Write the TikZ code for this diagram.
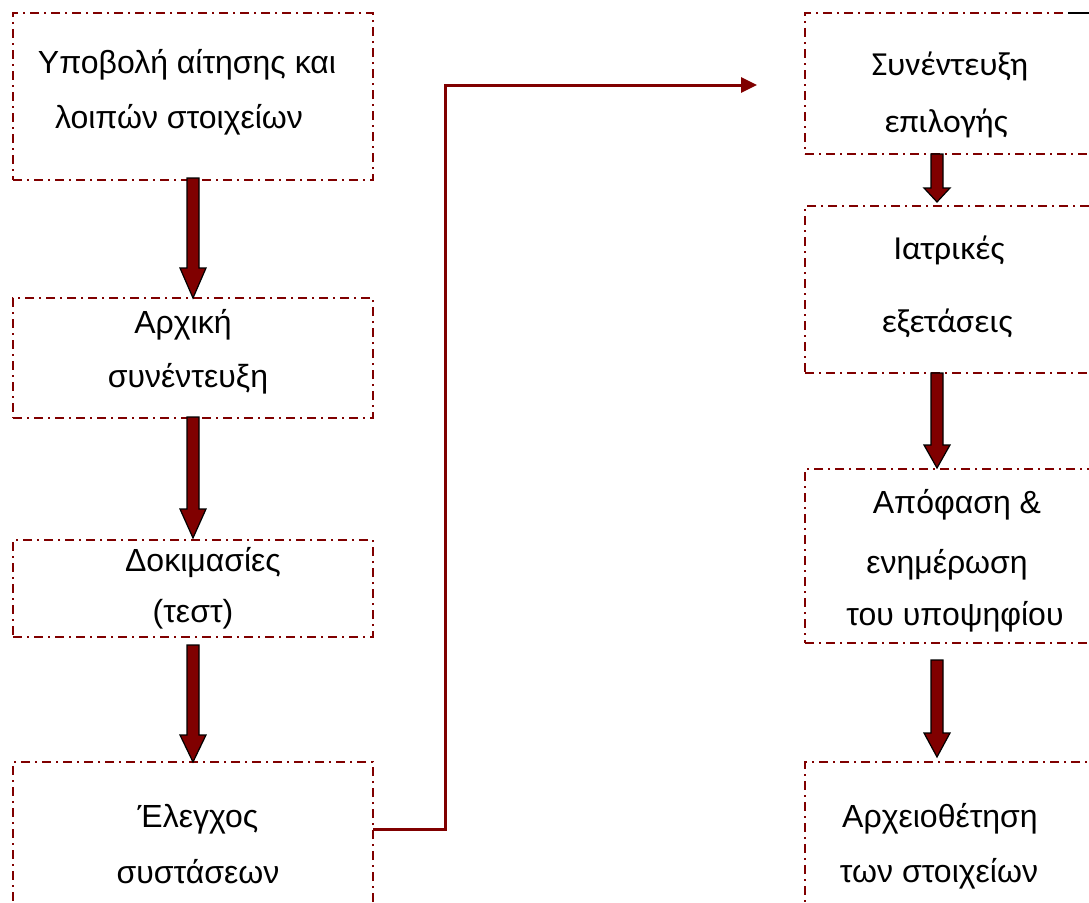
\documentclass[tikz,border=0pt]{standalone}
\usepackage{fontspec}
\setmainfont{Liberation Sans}
\newfontfamily\calibfont{Carlito}
\usetikzlibrary{calc,arrows.meta}
\definecolor{maroonc}{HTML}{800000}
\tikzset{
 box/.style={draw=maroonc, line width=2.4pt, dash pattern=on 9pt off 5pt on 2pt off 5pt, rectangle, inner sep=0pt, outer sep=0pt, anchor=north west},
 txt/.style={anchor=base, font=\fontsize{32}{38}\selectfont, inner sep=0pt},
 ctxt/.style={anchor=base, font=\calibfont\fontsize{33.6}{38}\selectfont, inner sep=0pt},
 flow/.style={draw=maroonc, line width=3pt, -{Triangle[length=16pt,width=15pt]}},
 blk/.style={draw=black, fill=maroonc, line width=1.2pt, line join=miter},
}
\newcommand\blockarrow[3]{\path[blk] let \p1=(#1), \p2=(#2) in (\x1-6pt,\y1) -- (\x1-6pt,\y2+#3) -- (\x1-13pt,\y2+#3) -- (\x1,\y2) -- (\x1+13pt,\y2+#3) -- (\x1+6pt,\y2+#3) -- (\x1+6pt,\y1) -- cycle;}
\begin{document}
\begin{tikzpicture}[x=1pt,y=-1pt]
\useasboundingbox (0,0) rectangle (1089,902);
\clip (0,0) rectangle (1089,902);
% boxes
\node[box, minimum width=360pt, minimum height=167pt] (b1) at (13,13) {};
\node[box, minimum width=360pt, minimum height=120pt] (b2) at (13,298) {};
\node[box, minimum width=360pt, minimum height=97pt] (b3) at (13,540) {};
\node[box, minimum width=360pt, minimum height=200pt] (b4) at (13,762) {};
\node[box, minimum width=300pt, minimum height=141pt] (b5) at (805,13) {};
\node[box, minimum width=300pt, minimum height=167pt] (b6) at (805,206) {};
\node[box, minimum width=300pt, minimum height=174pt] (b7) at (805,469) {};
\node[box, minimum width=300pt, minimum height=200pt] (b8) at (805,762) {};
% texts
\node[txt] (t1a) at (187,73) {Υποβολή αίτησης και};
\node[txt] (t1b) at (179,128) {λοιπών στοιχείων};
\node[txt] (t2a) at (183,333) {Αρχική};
\node[txt] (t2b) at (188,387) {συνέντευξη};
\node[txt] (t3a) at (203,571) {Δοκιμασίες};
\node[txt] (t3b) at (193,622) {(τεστ)};
\node[txt] (t4a) at (198,827) {Έλεγχος};
\node[txt] (t4b) at (198,883) {συστάσεων};
\node[ctxt] (t5a) at (950,75) {Συνέντευξη};
\node[ctxt] (t5b) at (946,132) {επιλογής};
\node[ctxt] (t6a) at (949,259) {Ιατρικές};
\node[ctxt] (t6b) at (947,332) {εξετάσεις};
\node[txt] (t7a) at (957,513) {Απόφαση \&};
\node[txt] (t7b) at (947,573) {ενημέρωση};
\node[txt] (t7c) at (955,625) {του υποψηφίου};
\node[txt] (t8a) at (940,827) {Αρχειοθέτηση};
\node[txt] (t8b) at (939,882) {των στοιχείων};
% block arrows
\blockarrow{$(b1.south)+(0,-2)$}{b2.north}{30pt}
\blockarrow{$(b2.south)+(0,-1)$}{$(b3.north)+(0,-2)$}{29pt}
\blockarrow{$(b3.south)+(0,8)$}{b4.north}{27pt}
\blockarrow{$(b5.south west)+(132,0)$}{$(b6.north west)+(132,-4)$}{14pt}
\blockarrow{$(b6.south west)+(132,0)$}{$(b7.north west)+(132,-1)$}{23pt}
\blockarrow{$(b7.south west)+(132,17)$}{$(b8.north west)+(132,-5)$}{24pt}
% connector
\coordinate (c5) at ($(b5.north west)+(-48,72)$);
\draw[flow] ($(b4.north east)+(0,67)$) -- ++(72,0) |- (c5);
% small black fragment at top right
\draw[black, line width=1.5pt] (1068,13) -- (1089,13);
\end{tikzpicture}
\end{document}
